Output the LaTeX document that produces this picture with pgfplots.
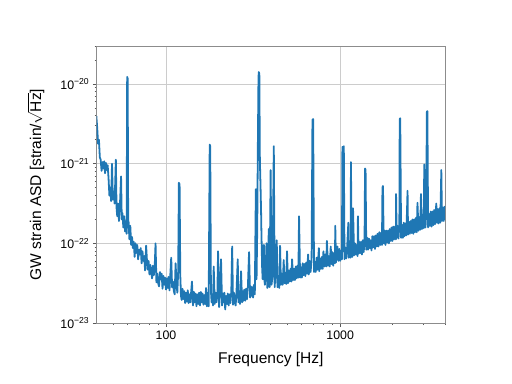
\documentclass[border=0pt]{standalone}
\usepackage{pgfplots}
\pgfplotsset{compat=1.18}
\usepackage{pgfplotstable}
\usepackage{fontspec}
\setmainfont{Liberation Sans}
\definecolor{tabblue}{HTML}{1F77B4}

% log10(frequency / Hz)  and  log10(ASD / (strain/sqrt(Hz)))
\pgfplotstableread{
lf ly
1.600 -20.40
1.605 -20.55
1.610 -20.75
1.615 -20.70
1.620 -20.92
1.625 -20.95
1.630 -21.09
1.635 -20.98
1.640 -21.06
1.645 -20.97
1.650 -21.12
1.655 -20.99
1.660 -21.08
1.665 -21.02
1.670 -21.18
1.675 -21.40
1.680 -21.30
1.685 -21.47
1.690 -21.00
1.695 -21.45
1.700 -21.35
1.705 -21.50
1.712 -20.95
1.716 -21.55
1.720 -21.66
1.725 -21.50
1.730 -21.72
1.735 -21.55
1.742 -21.16
1.746 -21.70
1.750 -21.62
1.755 -21.80
1.760 -21.66
1.765 -21.85
1.770 -21.72
1.774 -21.88
1.777 -19.91
1.780 -19.93
1.783 -21.80
1.785 -21.72
1.790 -21.95
1.795 -21.78
1.800 -22.02
1.805 -21.92
1.810 -22.06
1.815 -21.98
1.820 -22.17
1.825 -22.00
1.830 -22.12
1.835 -22.02
1.840 -22.20
1.845 -22.08
1.850 -22.14
1.855 -22.06
1.860 -22.25
1.865 -22.10
1.870 -22.22
1.875 -22.16
1.880 -22.34
1.886 -22.03
1.890 -22.19
1.895 -22.33
1.900 -22.22
1.905 -22.39
1.910 -22.27
1.915 -22.36
1.920 -22.44
1.925 -22.28
1.930 -22.40
1.935 -22.30
1.940 -22.00
1.945 -22.49
1.950 -22.38
1.955 -22.50
1.960 -22.54
1.965 -22.36
1.970 -22.45
1.975 -22.38
1.980 -22.57
1.985 -22.41
1.990 -22.52
1.995 -22.43
2.000 -22.58
2.005 -22.44
2.010 -22.56
2.015 -22.42
2.020 -22.59
2.030 -22.18
2.035 -22.55
2.040 -22.48
2.045 -22.60
2.050 -22.64
2.055 -22.25
2.060 -22.48
2.065 -22.62
2.070 -22.35
2.074 -21.24
2.078 -21.26
2.082 -22.40
2.086 -22.66
2.090 -22.71
2.095 -22.57
2.100 -22.70
2.105 -22.60
2.110 -22.75
2.115 -22.62
2.120 -22.73
2.125 -22.59
2.130 -22.75
2.135 -22.64
2.140 -22.74
2.149 -22.48
2.155 -22.78
2.160 -22.61
2.165 -22.74
2.170 -22.63
2.175 -22.79
2.180 -22.64
2.185 -22.76
2.190 -22.62
2.195 -22.78
2.200 -22.61
2.205 -22.74
2.210 -22.63
2.215 -22.77
2.220 -22.65
2.225 -22.76
2.230 -22.56
2.235 -22.79
2.240 -22.62
2.245 -22.79
2.251 -20.76
2.254 -20.78
2.258 -22.60
2.262 -22.74
2.265 -22.64
2.270 -22.78
2.274 -22.29
2.280 -22.76
2.285 -22.62
2.290 -22.74
2.295 -22.64
2.299 -22.10
2.305 -22.80
2.310 -22.62
2.316 -22.20
2.322 -22.78
2.326 -22.63
2.330 -22.74
2.335 -22.62
2.340 -22.83
2.345 -22.66
2.350 -22.76
2.355 -22.63
2.360 -22.78
2.365 -22.64
2.370 -22.75
2.375 -22.60
2.380 -22.04
2.385 -22.77
2.390 -22.62
2.395 -22.74
2.400 -22.78
2.405 -22.60
2.412 -22.20
2.416 -22.74
2.420 -22.60
2.425 -22.76
2.431 -22.35
2.437 -22.74
2.441 -22.60
2.445 -22.72
2.450 -22.58
2.455 -22.72
2.460 -22.57
2.465 -22.70
2.470 -22.56
2.477 -22.11
2.483 -22.68
2.487 -22.54
2.490 -22.66
2.495 -22.55
2.500 -22.68
2.505 -22.52
2.510 -22.64
2.516 -21.32
2.520 -22.45
2.524 -21.80
2.527 -20.90
2.531 -19.92
2.533 -19.85
2.536 -19.87
2.539 -20.95
2.543 -21.30
2.546 -21.60
2.548 -21.87
2.552 -22.30
2.555 -22.45
2.558 -22.20
2.562 -22.02
2.565 -22.46
2.568 -22.52
2.572 -22.38
2.577 -22.00
2.582 -22.56
2.586 -22.40
2.590 -21.82
2.595 -22.55
2.601 -21.08
2.606 -22.52
2.612 -22.40
2.619 -20.78
2.624 -22.55
2.627 -22.42
2.630 -22.39
2.636 -21.96
2.640 -22.55
2.645 -22.41
2.650 -22.56
2.655 -22.03
2.660 -22.52
2.665 -22.38
2.670 -22.52
2.676 -22.21
2.680 -22.50
2.685 -22.37
2.690 -22.51
2.695 -22.10
2.700 -22.50
2.705 -22.34
2.710 -22.48
2.715 -22.32
2.720 -22.48
2.724 -22.20
2.730 -22.46
2.735 -22.32
2.740 -22.46
2.745 -22.29
2.750 -22.44
2.755 -22.28
2.760 -22.43
2.764 -21.66
2.770 -22.43
2.775 -22.30
2.780 -22.43
2.785 -22.25
2.790 -22.40
2.795 -22.26
2.800 -22.41
2.805 -22.24
2.810 -22.38
2.816 -22.14
2.820 -22.39
2.825 -22.22
2.830 -22.36
2.836 -22.21
2.841 -20.45
2.845 -20.44
2.850 -22.36
2.855 -22.23
2.860 -22.36
2.865 -22.18
2.870 -22.33
2.878 -22.06
2.880 -22.35
2.885 -22.19
2.890 -22.32
2.895 -22.17
2.900 -22.32
2.904 -22.10
2.910 -22.29
2.915 -22.14
2.920 -22.29
2.924 -21.97
2.930 -22.28
2.935 -22.16
2.940 -22.29
2.946 -22.04
2.950 -22.26
2.955 -22.11
2.960 -22.28
2.965 -22.12
2.970 -22.25
2.972 -21.78
2.976 -22.24
2.980 -22.10
2.984 -22.04
2.990 -22.22
2.995 -22.07
3.000 -22.22
3.005 -22.09
3.010 -22.20
3.013 -20.79
3.017 -22.10
3.021 -20.78
3.025 -22.20
3.030 -22.05
3.035 -22.19
3.040 -22.06
3.047 -21.74
3.050 -22.18
3.055 -22.05
3.060 -22.18
3.062 -20.98
3.066 -22.10
3.070 -22.17
3.074 -21.56
3.080 -22.15
3.085 -22.00
3.090 -22.14
3.095 -22.02
3.100 -22.16
3.102 -21.66
3.106 -22.13
3.110 -21.98
3.115 -22.12
3.120 -21.98
3.125 -22.14
3.130 -21.96
3.135 -22.11
3.140 -21.98
3.143 -21.06
3.146 -21.08
3.150 -22.08
3.155 -21.93
3.160 -22.08
3.165 -21.94
3.170 -22.06
3.175 -21.96
3.180 -22.09
3.185 -21.91
3.190 -22.05
3.195 -21.91
3.200 -22.07
3.205 -21.90
3.210 -22.04
3.215 -21.88
3.220 -22.04
3.225 -21.86
3.230 -22.02
3.235 -21.87
3.240 -22.02
3.243 -21.30
3.246 -21.28
3.250 -22.00
3.255 -21.84
3.260 -22.02
3.265 -21.84
3.270 -21.99
3.275 -21.84
3.280 -22.00
3.285 -21.82
3.290 -21.97
3.295 -21.80
3.300 -21.97
3.305 -21.79
3.310 -21.95
3.315 -21.79
3.320 -21.95
3.321 -21.38
3.325 -21.93
3.330 -21.78
3.335 -21.94
3.340 -21.76
3.342 -20.44
3.345 -20.43
3.350 -21.93
3.355 -21.77
3.360 -21.93
3.365 -21.74
3.370 -21.91
3.375 -21.75
3.380 -21.90
3.387 -21.34
3.390 -21.89
3.395 -21.73
3.400 -21.88
3.405 -21.72
3.410 -21.87
3.415 -21.70
3.420 -21.88
3.425 -21.70
3.430 -21.86
3.435 -21.68
3.440 -21.86
3.444 -21.49
3.450 -21.84
3.455 -21.67
3.460 -21.83
3.464 -21.38
3.470 -21.82
3.475 -21.64
3.480 -21.81
3.483 -21.01
3.490 -21.80
3.494 -21.62
3.498 -20.35
3.501 -20.34
3.505 -21.80
3.510 -21.63
3.515 -21.78
3.520 -21.60
3.525 -21.79
3.530 -21.60
3.535 -21.77
3.540 -21.58
3.545 -21.76
3.552 -21.50
3.556 -21.74
3.560 -21.57
3.565 -21.75
3.570 -21.56
3.575 -21.74
3.581 -21.08
3.585 -21.72
3.590 -21.55
3.595 -21.72
3.600 -21.54
3.605 -21.70
3.610 -21.56
}\asd

\begin{document}
\begin{tikzpicture}
\useasboundingbox (0,0) rectangle (512bp,384bp);
\begin{axis}[
  at={(96.7bp,61bp)}, anchor=south west,
  width=348.3bp, height=277bp, scale only axis,
  xmode=log, ymode=log,
  xmin=40, xmax=4000, ymin=1e-23, ymax=3e-20,
  xtick={100,1000}, xticklabels={100,1000},
  minor xtick={50,60,70,80,90,200,300,400,500,600,700,800,900,2000,3000,4000},
  ytick={1e-23,1e-22,1e-21,1e-20},
  yticklabels={10\textsuperscript{−23},10\textsuperscript{−22},10\textsuperscript{−21},10\textsuperscript{−20}},
  minor ytick={2e-23,3e-23,4e-23,5e-23,6e-23,7e-23,8e-23,9e-23,
               2e-22,3e-22,4e-22,5e-22,6e-22,7e-22,8e-22,9e-22,
               2e-21,3e-21,4e-21,5e-21,6e-21,7e-21,8e-21,9e-21,
               2e-20,3e-20},
  tick pos=left, tick align=outside,
  major tick length=3.9bp, minor tick length=2.2bp,
  every tick/.style={black!65, line width=0.8pt},
  axis line style={black!45, line width=0.7pt},
  grid=major,
  major grid style={black!20, line width=0.8pt},
  tick label style={font=\fontsize{12.4}{14}\selectfont, black},
  label style={font=\fontsize{15.6}{18}\selectfont},
  xlabel={Frequency [Hz]},
  ylabel={GW strain ASD [strain/$\sqrt{\mbox{Hz}}$]},
  xlabel style={at={(axis description cs:0.5,-0.092)}, anchor=north},
  ylabel style={at={(axis description cs:-0.14,0.5)}, anchor=south},
]
\addplot[tabblue, line width=1.8pt, line join=round, mark=none]
  table[x expr={10^(\thisrow{lf})}, y expr={10^(\thisrow{ly})}] {\asd};
\end{axis}
\end{tikzpicture}
\end{document}
